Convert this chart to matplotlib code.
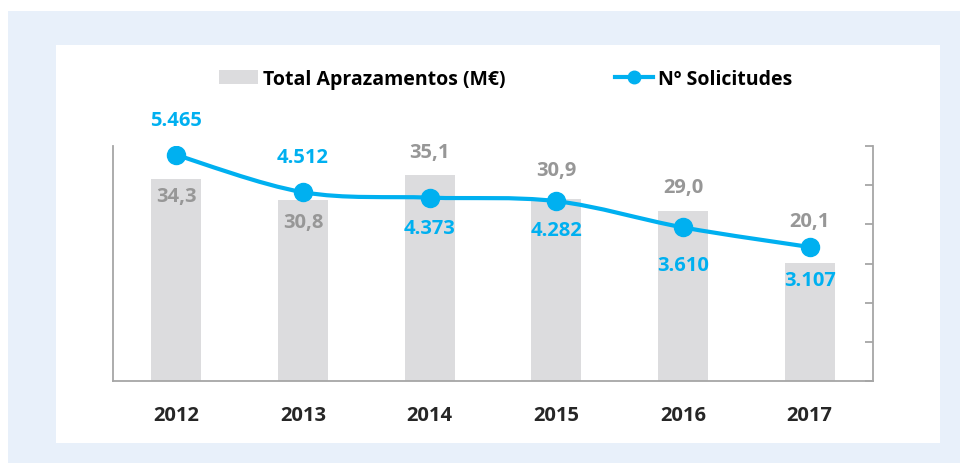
import matplotlib.pyplot as plt
import numpy as np
from matplotlib.patches import Rectangle, PathPatch
from matplotlib.path import Path
from matplotlib.lines import Line2D

plt.rcParams['font.family'] = ['Open Sans', 'DejaVu Sans']
plt.rcParams['font.weight'] = 'bold'

anos = ['2012', '2013', '2014', '2015', '2016', '2017']
total_aprazamentos = [34.3, 30.8, 35.1, 30.9, 29.0, 20.1]
solicitudes = [5465, 4512, 4373, 4282, 3610, 3107]
etiq_barras = ['34,3', '30,8', '35,1', '30,9', '29,0', '20,1']
etiq_linea = ['5.465', '4.512', '4.373', '4.282', '3.610', '3.107']

# desprazamento vertical das etiquetas (pt)
off_barras = [-12, -16, 16.5, 21, 17, 30]
off_linea = [25, 25, -22, -21, -27, -24]

azul = '#00B0F0'
gris_barra = '#DCDCDE'
gris_txt = '#979797'
eixo = '#A6A6A6'

fig = plt.figure(figsize=(9.6, 4.64), dpi=100, facecolor='white')
W, H = 960, 464
fig.patches.append(Rectangle((8 / W, 0), 1 - 8 / W, 1 - 12 / H, transform=fig.transFigure,
                             facecolor='#E8F0FA', edgecolor='none', zorder=-2))
fig.patches.append(Rectangle((56 / W, 1 - 444 / H), (940 - 56) / W, (444 - 46) / H,
                             transform=fig.transFigure, facecolor='white', edgecolor='none', zorder=-1))

ax = fig.add_axes([113 / W, 1 - 382 / H, (873 - 113) / W, (382 - 147) / H])
ax.patch.set_alpha(0)
x = np.arange(len(anos))
ax.bar(x, total_aprazamentos, width=0.395, color=gris_barra, zorder=1)
ax.set_xlim(-0.5, len(anos) - 0.5)
ax.set_ylim(0, 40)
ax.set_yticks([])
ax.set_xticks(x)
ax.set_xticklabels(anos, fontsize=14.5, fontweight='bold', color='#262626')
ax.tick_params(axis='x', length=0, pad=17)
ax.spines['top'].set_visible(False)
ax.spines['right'].set_visible(False)
for s in ['left', 'bottom']:
    ax.spines[s].set_color(eixo)
    ax.spines[s].set_linewidth(1.3)

for i, v in enumerate(total_aprazamentos):
    ax.annotate(etiq_barras[i], (x[i], v), xytext=(0, off_barras[i]), textcoords='offset points',
                ha='center', va='center', fontsize=14.5, fontweight='bold', color=gris_txt, zorder=3)

ax2 = ax.twinx()
ax2.set_ylim(-327, 5696)
ax2.set_yticks(np.linspace(-327, 5696, 7))
ax2.set_yticklabels([])
ax2.tick_params(axis='y', direction='in', length=6, color=eixo, width=1.3)
ax2.spines['top'].set_visible(False)
ax2.spines['left'].set_visible(False)
ax2.spines['bottom'].set_visible(False)
ax2.spines['right'].set_color(eixo)
ax2.spines['right'].set_linewidth(1.3)

# liña suavizada (bezier tipo Excel)
pts = np.column_stack([x, solicitudes]).astype(float)
verts = [pts[0]]
codes = [Path.MOVETO]
n = len(pts)
for i in range(n - 1):
    p0 = pts[i - 1] if i > 0 else pts[i]
    p3 = pts[i + 2] if i + 2 < n else pts[i + 1]
    c1 = pts[i] + (pts[i + 1] - p0) / 6
    c2 = pts[i + 1] - (p3 - pts[i]) / 6
    verts += [c1, c2, pts[i + 1]]
    codes += [Path.CURVE4] * 3
ax2.add_patch(PathPatch(Path(verts, codes), facecolor='none', edgecolor=azul, lw=3, zorder=2))
ax2.plot(x, solicitudes, 'o', color=azul, markersize=13, zorder=3)

for i, v in enumerate(solicitudes):
    ax2.annotate(etiq_linea[i], (x[i], v), xytext=(0, off_linea[i]), textcoords='offset points',
                 ha='center', va='center', fontsize=14.5, fontweight='bold', color=azul, zorder=4)

handles = [Rectangle((0, 0), 1, 1, facecolor=gris_barra, edgecolor='none'),
           Line2D([], [], color=azul, lw=3, marker='o', markersize=9)]
fig.legend(handles, ['Total Aprazamentos (M€)', 'Nº Solicitudes'], loc='center',
           bbox_to_anchor=(506 / W, 1 - 80 / H), ncol=2, frameon=False,
           columnspacing=5.6, handlelength=2.0, handletextpad=0.25,
           prop={'weight': 'bold', 'size': 14})

fig.savefig('out.png', dpi=100, facecolor=fig.get_facecolor())
